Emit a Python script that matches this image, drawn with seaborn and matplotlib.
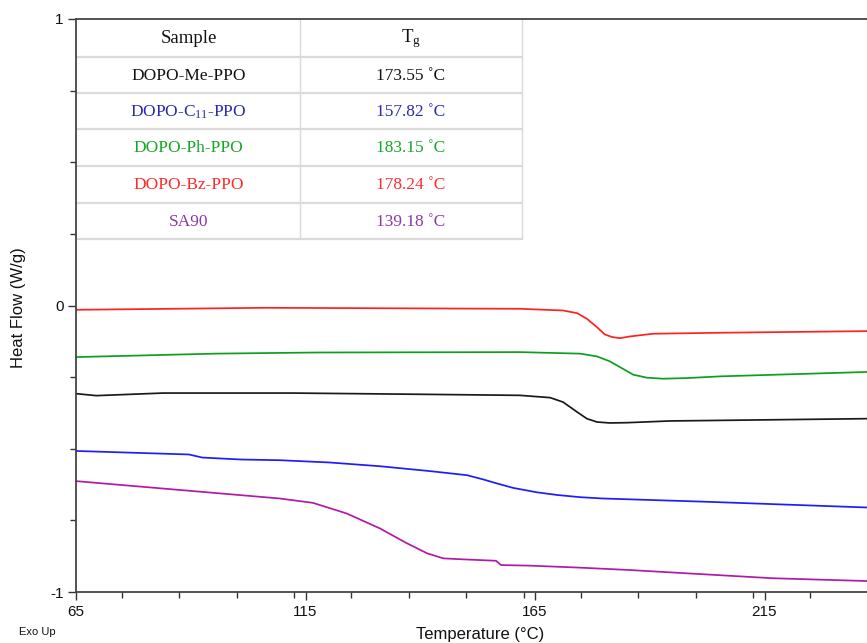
import numpy as np
import pandas as pd
import matplotlib
matplotlib.use("Agg")
import matplotlib.pyplot as plt
from matplotlib.ticker import MultipleLocator
import seaborn as sns

# ---------------- data ----------------
bz_x = [65, 106.5, 161.7, 171.1, 174.2, 176.3, 178.5, 180.2, 181.8, 183.5, 185.7, 190.7, 205.3, 237.3]
bz_y = [-0.015, -0.008, -0.0115, -0.0174, -0.0268, -0.0463, -0.0756, -0.101, -0.110, -0.114,
        -0.108, -0.0986, -0.0951, -0.0895]

ph_x = [65, 95.3, 117.7, 161.7, 174.8, 178.5, 181.3, 183.5, 186.4, 189.4, 192.9, 198.1, 205.3, 237.3]
ph_y = [-0.180, -0.168, -0.164, -0.1627, -0.168, -0.1777, -0.195, -0.215, -0.2415, -0.252,
        -0.2555, -0.2533, -0.2474, -0.232]

me_x = [65, 69.4, 84.0, 112.0, 140.3, 161.7, 168.3, 171.1, 174.2, 176.3, 178.5, 181.3, 185.0,
        194.4, 205.3, 237.3]
me_y = [-0.3077, -0.3146, -0.3056, -0.3056, -0.310, -0.3136, -0.3216, -0.337, -0.372, -0.395,
        -0.4066, -0.410, -0.409, -0.403, -0.401, -0.395]

c11_x = [65, 89.6, 92.5, 101.0, 109.4, 120.3, 131.2, 142.1, 150.2, 153.7, 156.7, 160.2, 165.4,
         169.8, 174.8, 179.6, 202.3, 237.3]
c11_y = [-0.5077, -0.520, -0.5307, -0.5376, -0.540, -0.548, -0.561, -0.578, -0.5923, -0.607,
         -0.621, -0.6365, -0.652, -0.6613, -0.669, -0.6735, -0.685, -0.705]

sa_x = [65, 109.4, 116.6, 124.0, 131.2, 137.1, 141.5, 145.0, 149.3, 156.5, 157.6, 163.9, 174.8,
        185.3, 216.8, 237.3]
sa_y = [-0.613, -0.6736, -0.6888, -0.726, -0.778, -0.830, -0.865, -0.8826, -0.886, -0.891,
        -0.906, -0.908, -0.915, -0.923, -0.952, -0.9617]

samples = ["DOPO-Me-PPO", "DOPO-C$_{\\mathrm{11}}$-PPO", "DOPO-Ph-PPO", "DOPO-Bz-PPO", "SA90"]
tg_values = ["173.55 \u02daC", "157.82 \u02daC", "183.15 \u02daC", "178.24 \u02daC", "139.18 \u02daC"]
text_colors = ["#111111", "#2a2ab0", "#17a62a", "#ff2a2a", "#8a3aa8"]

x_ticks = [65, 115, 165, 215]
y_ticks = [-1, 0, 1]

series = {
    "DOPO-Me-PPO": (me_x, me_y, "#1a1a1a"),
    "DOPO-C11-PPO": (c11_x, c11_y, "#1c1cff"),
    "DOPO-Ph-PPO": (ph_x, ph_y, "#0e9e1e"),
    "DOPO-Bz-PPO": (bz_x, bz_y, "#ff2020"),
    "SA90": (sa_x, sa_y, "#b01aa8"),
}

# ---------------- style ----------------
sns.set_theme(style="white")
plt.rcParams["font.family"] = ["Liberation Sans", "DejaVu Sans"]
plt.rcParams["mathtext.fontset"] = "custom"
plt.rcParams["mathtext.rm"] = "Liberation Serif"
plt.rcParams["mathtext.it"] = "Liberation Serif:italic"
plt.rcParams["axes.unicode_minus"] = False

W, H = 867, 643
fig = plt.figure(figsize=(W / 100, H / 100), dpi=100)
fig.patch.set_facecolor("white")
left_px, right_px, top_px, bot_px = 76, 867, 19, 592
ax = fig.add_axes([left_px / W, 1 - bot_px / H, (right_px - left_px) / W, (bot_px - top_px) / H])
ax.set_facecolor("white")

frames = []
for name, (xs, ys, c) in series.items():
    frames.append(pd.DataFrame({"T": xs, "HF": ys, "sample": name}))
df = pd.concat(frames, ignore_index=True)
palette = {k: v[2] for k, v in series.items()}
sns.lineplot(data=df, x="T", y="HF", hue="sample", palette=palette, sort=False,
             estimator=None, linewidth=1.25, legend=False, ax=ax)

xmax = 65 + (right_px - left_px) / 4.59
ax.set_xlim(65, xmax)
ax.set_ylim(-1, 1)
ax.set_xticks(x_ticks)
ax.set_yticks(y_ticks)
ax.xaxis.set_minor_locator(MultipleLocator(12.5))
ax.yaxis.set_minor_locator(MultipleLocator(0.25))
ax.tick_params(axis="both", which="major", direction="out", length=6, width=1.0,
               color="#333333", labelsize=11, labelcolor="#111111", pad=3)
ax.tick_params(axis="both", which="minor", direction="out", length=4, width=1.0, color="#333333")
ax.tick_params(bottom=True, left=True, which="both")
for s in ["left", "bottom", "top"]:
    ax.spines[s].set_color("#444444")
    ax.spines[s].set_linewidth(1.3)
    ax.spines[s].set_zorder(6)
ax.spines["right"].set_visible(False)

ax.set_xlabel("")
ax.set_ylabel("")
fig.text(19 / W, 1 - 308 / H, "Heat Flow (W/g)", rotation=90, ha="center", va="center",
         fontsize=12, color="#111111")
fig.text(480 / W, 1 - 634 / H, "Temperature (\u00b0C)", ha="center", va="center",
         fontsize=12, color="#111111")
fig.text(37 / W, 1 - 632 / H, "Exo Up", ha="center", va="center", fontsize=8, color="#111111")

# ---------------- table ----------------
def fx(px):
    return (px - left_px) / (right_px - left_px)

def fy(py):
    return (bot_px - py) / (bot_px - top_px)

row_edges = [19, 56.5, 93, 129, 165.5, 202.5, 239]
x0, xm, x1 = 77, 300, 522
lc = "#dadada"
ax.fill_between([fx(x0), fx(x1)], fy(row_edges[-1]), fy(row_edges[0]), transform=ax.transAxes,
                color="white", zorder=3)
for py in row_edges[1:]:
    ax.plot([fx(x0), fx(x1)], [fy(py), fy(py)], transform=ax.transAxes, color=lc, lw=1.6, zorder=4)
for px in [xm, x1]:
    ax.plot([fx(px), fx(px)], [fy(row_edges[0]), fy(row_edges[-1])], transform=ax.transAxes,
            color=lc, lw=1.0, zorder=4)

serif = ["Liberation Serif", "DejaVu Serif"]
cx1, cx2 = (x0 + xm) / 2, (xm + x1) / 2
hy = (row_edges[0] + row_edges[1]) / 2 + 1
ax.text(fx(cx1), fy(hy), "Sample", transform=ax.transAxes, ha="center", va="center",
        fontsize=13.5, family=serif, color="#111111", zorder=5)
ax.text(fx(cx2), fy(hy), "T$_{\\mathrm{g}}$", transform=ax.transAxes, ha="center", va="center",
        fontsize=13.5, family=serif, color="#111111", zorder=5)
for i, (sname, tg, col) in enumerate(zip(samples, tg_values, text_colors)):
    yc = (row_edges[i + 1] + row_edges[i + 2]) / 2 + 1
    ax.text(fx(cx1), fy(yc), sname, transform=ax.transAxes, ha="center", va="center",
            fontsize=12.5, family=serif, color=col, zorder=5)
    ax.text(fx(cx2), fy(yc), tg, transform=ax.transAxes, ha="center", va="center",
            fontsize=12.5, family=serif, color=col, zorder=5)

fig.savefig("out.png", dpi=100, facecolor="white")
